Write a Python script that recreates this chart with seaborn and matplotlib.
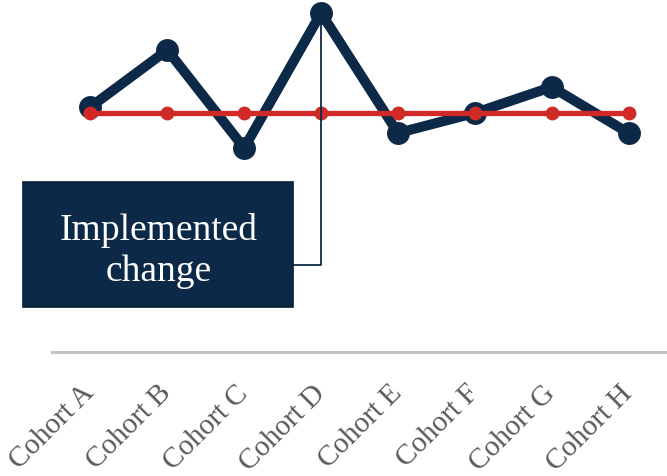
import matplotlib
matplotlib.use("Agg")
import matplotlib.pyplot as plt
from matplotlib.patches import Rectangle
import seaborn as sns
import pandas as pd

cohorts = ["Cohort A", "Cohort B", "Cohort C", "Cohort D",
           "Cohort E", "Cohort F", "Cohort G", "Cohort H"]
results = [56, 113, 15, 150, 30, 50, 76, 30]
baseline = [50, 50, 50, 50, 50, 50, 50, 50]
note_text = "Implemented\nchange"

NAVY = "#0c2947"
RED = "#d12a26"
SERIF = ["Liberation Serif", "DejaVu Serif"]

sns.set_theme(style="white")
plt.rcParams["font.family"] = SERIF

df = pd.DataFrame({"cohort": cohorts, "result": results, "baseline": baseline})

fig = plt.figure(figsize=(6.67, 4.76), dpi=100)
ax = fig.add_axes([52 / 667, 1 - 352 / 476, 615 / 667, 352 / 476])

sns.lineplot(data=df, x="cohort", y="result", ax=ax, color=NAVY,
             linewidth=7.2, marker="o", markersize=16.5,
             markeredgewidth=0, zorder=2)
sns.lineplot(data=df, x="cohort", y="baseline", ax=ax, color=RED,
             linewidth=3.8, marker="o", markersize=10,
             markeredgewidth=0, zorder=3)

ax.set_xlim(-0.5, 7.5)
ax.set_ylim(-189, 163)
ax.set_xlabel("")
ax.set_ylabel("")
ax.set_yticks([])

for side in ["top", "left", "right"]:
    ax.spines[side].set_visible(False)
ax.spines["bottom"].set_color("#c4c4c4")
ax.spines["bottom"].set_linewidth(2.2)

ax.tick_params(axis="x", length=0, pad=27)
ax.set_xticks(range(len(cohorts)))
ax.set_xticklabels(cohorts, rotation=45, ha="right", va="center",
                   rotation_mode="anchor", fontsize=21, color="#595959")

# annotation box with elbow connector to the peak
ax.add_patch(Rectangle((-0.872, -144), 3.513, 125, facecolor=NAVY,
                       edgecolor="#0a1f36", linewidth=1.2,
                       clip_on=False, zorder=4))
ax.text(0.885, -88, note_text, ha="center", va="center", color="white",
        fontsize=27, linespacing=1.22, zorder=5)
peak = results.index(max(results))
ax.annotate("", xy=(peak, results[peak]), xytext=(2.641, -102),
            arrowprops=dict(arrowstyle="-", color=NAVY, lw=1.3,
                            connectionstyle="angle,angleA=0,angleB=90,rad=0",
                            shrinkA=0, shrinkB=0),
            zorder=6, annotation_clip=False)

fig.savefig("out.png", dpi=100)
